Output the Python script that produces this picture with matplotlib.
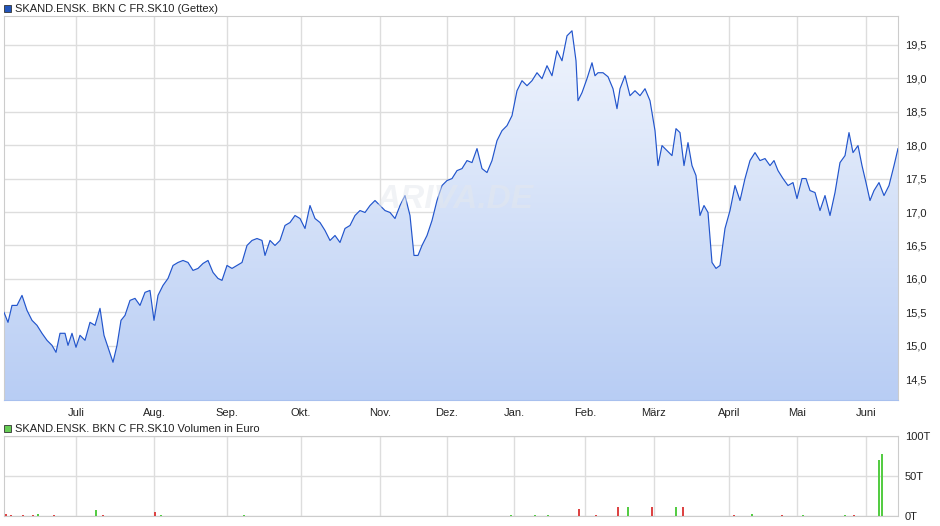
import matplotlib
matplotlib.use("Agg")
import matplotlib.pyplot as plt
import numpy as np
from matplotlib.patches import Polygon
from matplotlib.colors import LinearSegmentedColormap

plt.rcParams['font.family'] = ['Liberation Sans', 'DejaVu Sans']

# time in chart units (~0.29 trading days each)
t = [0,4,8,13,18,23,28,33,38,43,48,52,56,61,64,68,72,76,81,86,91,96,100,105,109,113,117,121,126,131,136,141,146,150,154,159,164,169,174,179,184,189,194,199,204,209,214,218,223,228,233,238,243,248,253,258,261,266,271,276,281,286,291,296,301,306,311,316,321,326,331,336,341,346,351,356,361,366,371,376,381,386,391,396,401,406,410,414,418,423,428,433,438,443,448,453,458,463,468,473,478,483,488,493,498,503,508,513,518,523,528,533,538,543,548,553,558,563,568,572,574,578,583,588,591,594,599,604,609,613,616,621,626,631,636,641,646,651,654,658,663,668,672,676,680,684,688,692,696,700,704,708,712,716,721,726,731,736,741,746,751,756,761,766,770,774,779,784,789,793,798,802,806,811,816,821,826,831,836,841,845,849,854,858,862,866,870,875,880,885,890,894]
px_y = [312,322,305,305,295,310,320,325,333,340,345,352,333,333,345,333,347,335,340,322,325,308,335,350,362,345,320,315,300,298,305,292,290,320,295,285,278,265,262,260,262,270,268,263,260,272,278,280,265,268,265,262,245,240,238,240,255,240,245,240,225,222,215,218,228,205,218,222,230,240,235,242,228,225,215,210,212,205,200,205,210,212,218,205,195,215,255,255,245,235,220,200,185,180,178,170,168,160,162,148,168,172,160,140,130,125,115,90,80,85,80,72,78,65,75,50,60,35,30,60,100,92,78,62,75,72,72,76,88,108,88,75,95,90,95,88,100,130,165,145,150,155,128,132,165,142,165,175,215,205,212,262,268,265,228,210,185,200,178,160,152,160,158,165,160,170,178,185,182,198,178,178,190,192,210,195,215,192,162,155,132,152,145,165,182,200,190,182,195,185,165,148]
price = [round(14.5 + (379 - y) / 67, 3) for y in px_y]

month_labels = ["Juli","Aug.","Sep.","Okt.","Nov.","Dez.","Jan.","Feb.","März","April","Mai","Juni"]
month_pos = [72,150,223,297,376,443,510,581,650,725,793,862]

vol_t = [2,7,19,29,34,50,92,99,151,157,240,419,507,531,544,575,592,614,624,648,672,679,730,748,778,799,841,850,875,878]
vol_v = [3,1,1,1,2,1,8,1,5,1,1,0.5,1,1,1,8.5,1,11,11,11,11,11,1,2,1,1,1,1,70,78]
vol_up = [0,0,0,0,1,0,1,0,0,1,1,1,1,1,1,0,0,0,1,0,1,0,0,1,0,1,1,0,1,1]

fig = plt.figure(figsize=(9.4, 5.26), dpi=100)
W, H = 940, 526
x0, x1 = 4, 898
ax = fig.add_axes([x0/W, 1-400/H, (x1-x0)/W, (400-16)/H])
axv = fig.add_axes([x0/W, 1-516/H, (x1-x0)/W, (516-436)/H])

ymin, ymax = 14.19, 19.93
xmin, xmax = 0, 894
ax.set_xlim(xmin, xmax); ax.set_ylim(ymin, ymax)
grad = np.linspace(0, 1, 256).reshape(-1, 1)
cm = LinearSegmentedColormap.from_list("g", ["#b8cdf4", "#f2f6fd"])
im = ax.imshow(grad, cmap=cm, aspect='auto', extent=[xmin, xmax, ymin, ymax], origin='lower', zorder=1)
poly = Polygon(list(zip(t, price)) + [(t[-1], ymin), (t[0], ymin)], closed=True, transform=ax.transData, facecolor='none', edgecolor='none')
ax.add_patch(poly)
im.set_clip_path(poly)
ax.plot(t, price, color='#2255cc', lw=0.85, zorder=3)

for a in (ax, axv):
    a.set_facecolor('white')
    for s in a.spines.values():
        s.set_color('#cccccc')
    a.set_xticks(month_pos)
    a.grid(True, color='#dddddd', lw=1)
    a.set_axisbelow(True)
    a.tick_params(length=0, labelsize=8, colors='#222222', pad=5)
    a.yaxis.tick_right()
ax.spines['bottom'].set_color('#a8c0ee')
ax.set_yticks([14.5,15,15.5,16,16.5,17,17.5,18,18.5,19,19.5])
ax.set_yticklabels([f"{v:.1f}".replace('.', ',') for v in ax.get_yticks()])
ax.set_xticklabels(month_labels)
ax.tick_params(axis='x', pad=6)

axv.set_xlim(xmin, xmax); axv.set_ylim(0, 100)
axv.set_yticks([0,50,100]); axv.set_yticklabels(["0T","50T","100T"])
axv.set_xticklabels([])
cols = ['#55cc44' if u else '#dd4444' for u in vol_up]
axv.bar(vol_t, vol_v, width=1.5, color=cols, zorder=3)

fig.text(455/W, 1-200/H, "ARIVA.DE", fontsize=24, color='#e4e8ee', ha='center', va='center', fontweight='bold', style='italic', zorder=0, alpha=0.5)

fig.patches.append(plt.Rectangle((4/W, 1-12/H), 7/W, 7/H, transform=fig.transFigure, facecolor='#2255bb', edgecolor='#333333', lw=0.6))
fig.text(15/W, 1-8.5/H, "SKAND.ENSK. BKN C FR.SK10 (Gettex)", fontsize=8, va='center', color='#222222')
fig.patches.append(plt.Rectangle((4/W, 1-432/H), 7/W, 7/H, transform=fig.transFigure, facecolor='#66cc55', edgecolor='#333333', lw=0.6))
fig.text(15/W, 1-428.5/H, "SKAND.ENSK. BKN C FR.SK10 Volumen in Euro", fontsize=8, va='center', color='#222222')

fig.savefig("out.png", dpi=100)
